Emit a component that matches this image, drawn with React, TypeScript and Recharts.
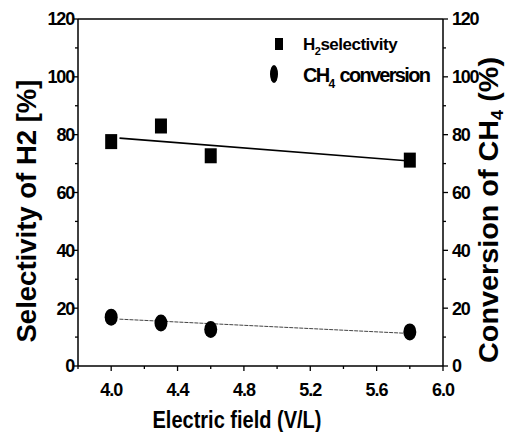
import { ComposedChart, Scatter, Line, XAxis, YAxis, ReferenceLine } from "recharts"

const electricField = [4.0, 4.3, 4.6, 5.8]
const h2Selectivity = [77.6, 83.0, 72.7, 71.2]
const ch4Conversion = [16.9, 14.9, 12.6, 11.8]

// fitted lines, end points
const h2FitX = [4.05, 5.78]
const h2FitY = [78.8, 71.0]
const ch4FitX = [4.05, 5.78]
const ch4FitY = [16.2, 11.3]

const xTicks = [3.8, 4.0, 4.2, 4.4, 4.6, 4.8, 5.0, 5.2, 5.4, 5.6, 5.8, 6.0]
const xLabels = [4.0, 4.4, 4.8, 5.2, 5.6, 6.0]
const yTicks = [0, 10, 20, 30, 40, 50, 60, 70, 80, 90, 100, 110, 120]
const yLabels = [0, 20, 40, 60, 80, 100, 120]

const h2Data = electricField.map((x, i) => ({ x, y: h2Selectivity[i] }))
const ch4Data = electricField.map((x, i) => ({ x, y: ch4Conversion[i] }))
const h2Fit = h2FitX.map((x, i) => ({ x, y: h2FitY[i] }))
const ch4Fit = ch4FitX.map((x, i) => ({ x, y: ch4FitY[i] }))

const FONT = "'Liberation Sans', Arial, sans-serif"

const isMajor = (list: number[], v: number) => list.some((t) => Math.abs(t - v) < 1e-6)

function XTick(props: any) {
  const { x, y, payload } = props
  const major = isMajor(xLabels, payload.value)
  return (
    <g>
      <line x1={x} y1={y} x2={x} y2={y + (major ? 5 : 3)} stroke="#000" strokeWidth={1.3} />
      {major && (
        <text x={x} y={y + 30} textAnchor="middle" fontFamily={FONT} fontWeight="bold" fontSize={18} letterSpacing={-1} fill="#000">
          {payload.value.toFixed(1)}
        </text>
      )}
    </g>
  )
}

function LeftTick(props: any) {
  const { x, y, payload } = props
  const major = isMajor(yLabels, payload.value)
  return (
    <g>
      <line x1={x - (major ? 5 : 3)} y1={y} x2={x} y2={y} stroke="#000" strokeWidth={1.3} />
      {major && (
        <text x={x - 4} y={y} dy="0.36em" textAnchor="end" fontFamily={FONT} fontWeight="bold" fontSize={18} letterSpacing={-1.2} fill="#000">
          {payload.value}
        </text>
      )}
    </g>
  )
}

function RightTick(props: any) {
  const { x, y, payload } = props
  const major = isMajor(yLabels, payload.value)
  return (
    <g>
      <line x1={x} y1={y} x2={x + (major ? 5 : 3)} y2={y} stroke="#000" strokeWidth={1.3} />
      {major && (
        <text x={x + 9} y={y} dy="0.36em" textAnchor="start" fontFamily={FONT} fontWeight="bold" fontSize={18} letterSpacing={-1.2} fill="#000">
          {payload.value}
        </text>
      )}
    </g>
  )
}

const Square = (props: any) => (
  <rect x={props.cx - 6} y={props.cy - 7.5} width={12} height={15} fill="#000" />
)

const Dot = (props: any) => <ellipse cx={props.cx} cy={props.cy} rx={6.5} ry={8.5} fill="#000" />

const xLabel = () => (
  <text x={237} y={428} textAnchor="middle" fontFamily={FONT} fontWeight="bold" fontSize={23} textLength={169} lengthAdjust="spacingAndGlyphs" fill="#000">
    Electric field (V/L)
  </text>
)

const leftLabel = () => (
  <text x={0} y={0} transform="translate(36,211) rotate(-90)" textAnchor="middle" fontFamily={FONT} fontWeight="bold" fontSize={28} textLength={263} lengthAdjust="spacingAndGlyphs" fill="#000">
    Selectivity of H2 [%]
  </text>
)

const rightLabel = () => (
  <text x={0} y={0} transform="translate(498,210) rotate(-90)" textAnchor="middle" fontFamily={FONT} fontWeight="bold" fontSize={27} textLength={306} lengthAdjust="spacingAndGlyphs" fill="#000">
    Conversion of CH<tspan fontSize={17} dy={5}>4</tspan>
    <tspan dy={-5}> (%)</tspan>
  </text>
)

export default function App() {
  return (
    <div style={{ position: "absolute", left: 0, top: 0, width: 506, height: 432, background: "#fff" }}>
      <ComposedChart width={506} height={432} margin={{ top: 19, right: 0, bottom: 0, left: 0 }}>
        <XAxis
          type="number"
          dataKey="x"
          domain={[3.8, 6.0]}
          ticks={xTicks}
          interval={0}
          allowDataOverflow
          height={66}
          tickSize={0}
          tickMargin={0}
          tickLine={false}
          tick={<XTick />}
          axisLine={{ stroke: "#000", strokeWidth: 1.5 }}
          label={xLabel}
        />
        <YAxis
          yAxisId="left"
          type="number"
          domain={[0, 120]}
          ticks={yTicks}
          interval={0}
          width={78}
          tickSize={0}
          tickMargin={0}
          tickLine={false}
          tick={<LeftTick />}
          axisLine={{ stroke: "#000", strokeWidth: 1.5 }}
          label={leftLabel}
        />
        <YAxis
          yAxisId="right"
          orientation="right"
          type="number"
          domain={[0, 120]}
          ticks={yTicks}
          interval={0}
          width={63}
          tickSize={0}
          tickMargin={0}
          tickLine={false}
          tick={<RightTick />}
          axisLine={{ stroke: "#000", strokeWidth: 1.5 }}
          label={rightLabel}
        />
        <ReferenceLine yAxisId="left" y={120} stroke="#000" strokeWidth={1.5} />
        <Line yAxisId="left" data={h2Fit} dataKey="y" stroke="#000" strokeWidth={1.6} dot={false} isAnimationActive={false} />
        <Line yAxisId="right" data={ch4Fit} dataKey="y" stroke="#444" strokeWidth={1} strokeDasharray="4 1" dot={false} isAnimationActive={false} />
        <Scatter yAxisId="left" data={h2Data} dataKey="y" shape={Square} isAnimationActive={false} />
        <Scatter yAxisId="right" data={ch4Data} dataKey="y" shape={Dot} isAnimationActive={false} />
      </ComposedChart>
      <svg width={506} height={432} style={{ position: "absolute", left: 0, top: 0, pointerEvents: "none" }}>
        <rect x={275} y={38} width={8} height={12} fill="#000" />
        <text x={303} y={50} fontFamily={FONT} fontWeight="bold" fontSize={17} letterSpacing={-0.5} fill="#000">
          H<tspan fontSize={11} dy={5}>2</tspan>
          <tspan dy={-5}>selectivity</tspan>
        </text>
        <ellipse cx={274} cy={74} rx={4} ry={9} fill="#000" />
        <text x={303} y={82} fontFamily={FONT} fontWeight="bold" fontSize={20} letterSpacing={-1.7} fill="#000">
          CH<tspan fontSize={12} dy={6}>4</tspan>
          <tspan dy={-6} dx={6}>conversion</tspan>
        </text>
      </svg>
    </div>
  )
}
